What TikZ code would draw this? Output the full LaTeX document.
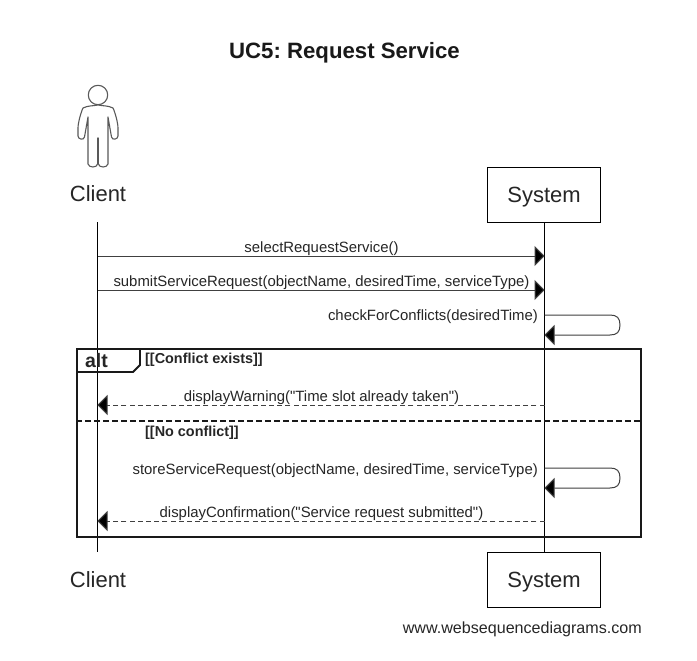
\documentclass[tikz,border=0pt]{standalone}
\usepackage{fontspec}
\setmainfont{Liberation Sans}[Ligatures=TeXOff]
\usetikzlibrary{arrows.meta}
\frenchspacing
\tikzset{
  x=1pt,y=-1pt,
  actorbox/.style={draw=black,line width=0.8pt,minimum width=113pt,minimum height=55pt,inner sep=0pt,font=\fontsize{22}{26}\selectfont,text=black!85},
  actortext/.style={inner sep=0pt,font=\fontsize{22}{26}\selectfont,text=black!85},
  msgtext/.style={inner sep=0pt,font=\fontsize{14.9}{17}\selectfont,text=black!85,anchor=base},
  condtext/.style={inner sep=0pt,font=\bfseries\fontsize{14.4}{17}\selectfont,text=black!85,anchor=base west},
  life/.style={draw=black,line width=0.9pt},
  headtip/.style={-{Triangle[length=10pt,width=20pt,fill=black]}},
  msg/.style={draw=black!75,line width=1pt,headtip,shorten >=0pt},
  reply/.style={msg,dash pattern=on 5pt off 3.2pt},
  frameline/.style={draw=black!90,line width=1.9pt},
  stick/.style={draw=black!65,line width=1.1pt,line join=round,fill=white}
}
\begin{document}
\begin{tikzpicture}
\useasboundingbox (0,0) rectangle (697,661);
\fill[white] (0,0) rectangle (697,661);
\node[inner sep=0pt,font=\bfseries\fontsize{22.2}{26}\selectfont,text=black!90,anchor=base] (title) at (344.5,59) {UC5: Request Service};
% actor
\draw[stick] (98,95) circle (9.7);
\draw[stick] (98,105) .. controls (93,106) and (88,105.5) .. (83,108) .. controls (81,112) and (78,123) .. (78,128)
  -- (78,136) .. controls (78,139.5) and (84,140.5) .. (84.5,137)
  -- (88,117) -- (88,164) .. controls (89,168) and (97,168) .. (97.6,164)
  -- (97.6,138) -- (98.4,138) -- (98.4,164) .. controls (99,168) and (107,168) .. (108,164)
  -- (108,117) -- (111.5,137) .. controls (112,140.5) and (118,139.5) .. (118,136)
  -- (118,128) .. controls (118,123) and (115,112) .. (113,108) .. controls (108,105.5) and (103,106) .. (98,105) -- cycle;
\node[actortext,anchor=base] (clientTop) at (98,201.5) {Client};
\node[actortext,anchor=base] (clientBot) at (98,587.5) {Client};
\node[actorbox,text depth=0pt] (sysTop) at (544,194.5) {\raisebox{-1.5pt}{System}};
\node[actorbox,text depth=0pt] (sysBot) at (544,579.5) {\raisebox{-1.5pt}{System}};
\coordinate (lifeCT) at (97.5,222);
\coordinate (lifeCB) at (97.5,552);
\draw[life] (lifeCT) -- (lifeCB);
\draw[life] (sysTop.south) -- (sysBot.north);
% messages
\coordinate (a1) at (97.5,256); \coordinate (b1) at (544.5,256);
\coordinate (a2) at (97.5,290); \coordinate (b2) at (544.5,290);
\draw[msg] (a1) -- (b1);
\draw[msg] (a2) -- (b2);
\node[msgtext] (m1) at (321.5,252) {selectRequestService()};
\node[msgtext] (m2) at (321.5,286) {submitServiceRequest(objectName, desiredTime, serviceType)};
\coordinate (s1a) at (544.5,315); \coordinate (s1b) at (544.5,335);
\draw[msg] (s1a) -- (610,315) .. controls (617,315) and (620,318) .. (620,325) .. controls (620,332) and (617,335) .. (610,335) -- (s1b);
\node[msgtext,anchor=base east] (m3) at (538,320) {checkForConflicts(desiredTime)};
% frame
\node[frameline,draw,minimum width=564pt,minimum height=188pt,inner sep=0pt] (alt) at (359,443) {};
\draw[frameline] (77,372) -- (133,372) -- (140,365) -- (140,349);
\node[inner sep=0pt,font=\bfseries\fontsize{19.5}{22}\selectfont,text=black!85,anchor=base] (altlabel) at (96.5,367) {alt};
\node[condtext] (c1) at (145,363) {[[Conflict exists]]};
\draw[frameline,dash pattern=on 5.5pt off 3.5pt] (alt.west |- 0,421) -- (alt.east |- 0,421);
\node[condtext] (c2) at (145,436) {[[No conflict]]};
\coordinate (a3) at (97.5,405); \coordinate (b3) at (544.5,405);
\draw[reply] (b3) -- (a3);
\node[msgtext] (m4) at (321.5,401) {displayWarning("Time slot already taken")};
\coordinate (s2a) at (544.5,468); \coordinate (s2b) at (544.5,488);
\draw[msg] (s2a) -- (610,468) .. controls (617,468) and (620,471) .. (620,478) .. controls (620,485) and (617,488) .. (610,488) -- (s2b);
\node[msgtext,anchor=base east] (m5) at (538,474) {storeServiceRequest(objectName, desiredTime, serviceType)};
\coordinate (a4) at (97.5,521); \coordinate (b4) at (544.5,521);
\draw[reply] (b4) -- (a4);
\node[msgtext] (m6) at (321.5,517) {displayConfirmation("Service request submitted")};
\node[inner sep=0pt,font=\fontsize{16.1}{19}\selectfont,text=black!85,anchor=base east] (wm) at (642,633) {www.websequencediagrams.com};
\end{tikzpicture}
\end{document}
